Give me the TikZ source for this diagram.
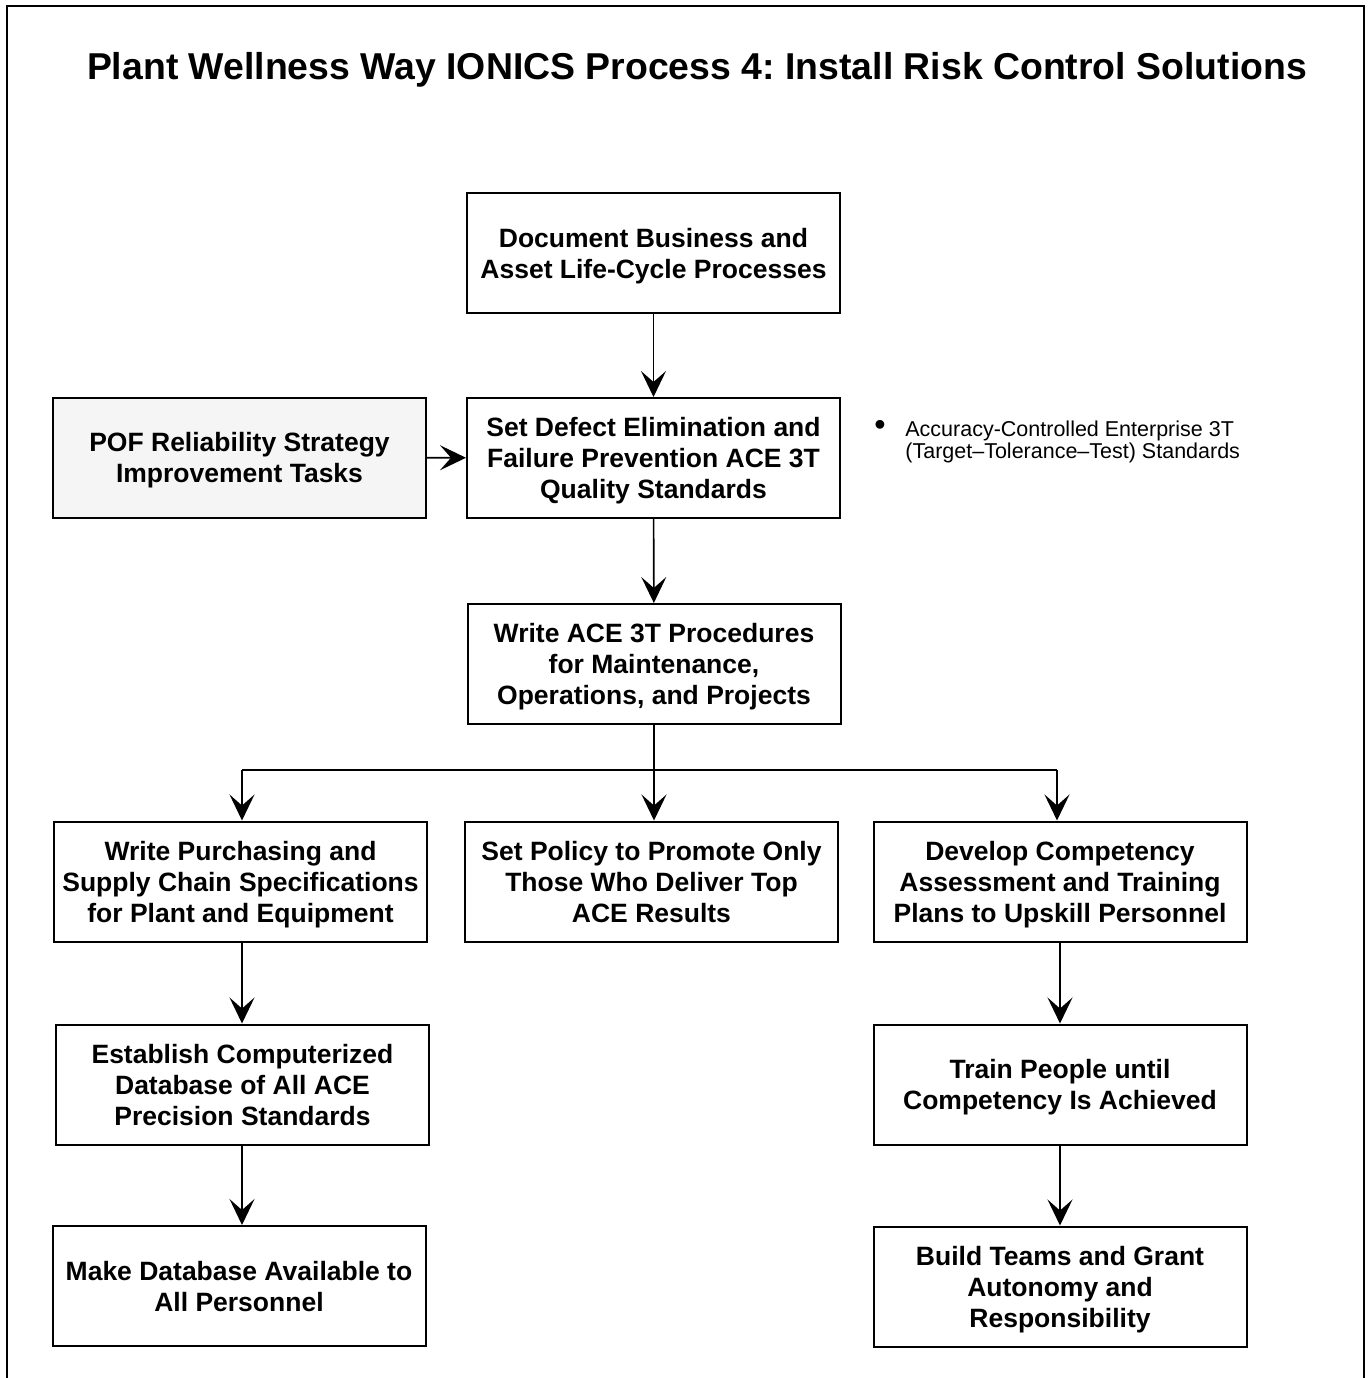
\documentclass[tikz,border=0pt]{standalone}
\usepackage{fontspec}
\setmainfont{Liberation Sans}
\usetikzlibrary{arrows.meta}
\frenchspacing
\tikzset{
  box/.style={draw, line width=1pt, fill=white, inner sep=0pt, align=center,
    minimum width=186.5pt, minimum height=60pt, text depth=0pt,
    font=\fontsize{13.25}{15.5}\selectfont\bfseries},
  greybox/.style={box, fill=black!4},
  conn/.style={line width=0.8pt, -{Stealth[length=13pt,width=12.5pt,inset=5.5pt]}},
  plain/.style={line width=0.8pt},
}
\begin{document}
\begin{tikzpicture}[x=0.5pt,y=-0.5pt]
\useasboundingbox (0,0) rectangle (1371,1378);
\draw[line width=1pt] (7,1400) -- (7,6) -- (1364,6) -- (1364,1400);
\node[font=\fontsize{18.7}{23}\selectfont\bfseries] (title) at (697,70) {Plant Wellness Way IONICS Process 4: Install Risk Control Solutions};

\node[box] (doc) at (653.5,253) {Document Business and\\Asset Life-Cycle Processes};
\node[box] (set) at (653.5,458) {Set Defect Elimination and\\Failure Prevention ACE 3T\\Quality Standards};
\node[greybox] (pof) at (239.5,457.5) {POF Reliability Strategy\\Improvement Tasks};
\node[box] (write) at (654,664) {Write ACE 3T Procedures\\for Maintenance,\\Operations, and Projects};
\node[box] (purch) at (240.5,881.5) {Write Purchasing and\\Supply Chain Specifications\\for Plant and Equipment};
\node[box] (policy) at (651.5,881.5) {Set Policy to Promote Only\\Those Who Deliver Top\\ACE Results};
\node[box] (dev) at (1060,881.5) {Develop Competency\\Assessment and Training\\Plans to Upskill Personnel};
\node[box] (est) at (242.5,1084.5) {Establish Computerized\\Database of All ACE\\Precision Standards};
\node[box] (train) at (1060,1084.5) {Train People until\\Competency Is Achieved};
\node[box] (make) at (239,1286) {Make Database Available to\\All Personnel};
\node[box] (build) at (1060,1286.5) {Build Teams and Grant\\Autonomy and\\Responsibility};

\node[anchor=north west, inner sep=0pt, align=left, font=\fontsize{10.75}{11}\selectfont] (note) at (874,420)
  {\makebox[15.5pt][l]{\raisebox{0.3pt}{\scalebox{1.5}{\textbullet}}}Accuracy-Controlled Enterprise 3T\\\hspace*{15.5pt}(Target–Tolerance–Test) Standards};

\coordinate (jl) at (242,770);
\coordinate (jc) at (654,770);
\coordinate (jr) at (1057,770);

\draw[conn] (doc) -- (set);
\draw[conn] (pof) -- (set);
\draw[conn] (set) -- (write);
\draw[plain] (write) -- (jc);
\draw[plain] (jl) -- (jr);
\draw[conn] (jl) -- (jl |- purch.north);
\draw[conn] (jc) -- (jc |- policy.north);
\draw[conn] (jr) -- (jr |- dev.north);
\draw[conn] (jl |- purch.south) -- (jl |- est.north);
\draw[conn] (jl |- est.south) -- (jl |- make.north);
\draw[conn] (dev) -- (train);
\draw[conn] (train) -- (build);
\end{tikzpicture}
\end{document}
